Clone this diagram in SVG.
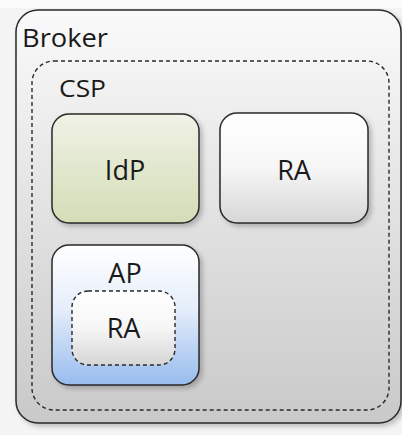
<svg xmlns="http://www.w3.org/2000/svg" width="402" height="435" viewBox="0 0 402 435">
  <defs>
    <linearGradient id="gBroker" x1="0" y1="0" x2="0" y2="1">
      <stop offset="0" stop-color="#fafafa"/>
      <stop offset="1" stop-color="#c9c9c9"/>
    </linearGradient>
    <linearGradient id="gIdP" x1="0" y1="0" x2="0" y2="1">
      <stop offset="0" stop-color="#f0f2e6"/>
      <stop offset="1" stop-color="#d3ddb6"/>
    </linearGradient>
    <linearGradient id="gGray" x1="0" y1="0" x2="0" y2="1">
      <stop offset="0" stop-color="#ffffff"/>
      <stop offset="0.5" stop-color="#f6f6f6"/>
      <stop offset="1" stop-color="#d6d6d6"/>
    </linearGradient>
    <linearGradient id="gAP" x1="0" y1="0" x2="0" y2="1">
      <stop offset="0" stop-color="#ffffff"/>
      <stop offset="0.45" stop-color="#e6eefa"/>
      <stop offset="1" stop-color="#98bcee"/>
    </linearGradient>
    <filter id="shadow" x="-10%" y="-10%" width="125%" height="125%">
      <feGaussianBlur in="SourceAlpha" stdDeviation="2.5"/>
      <feOffset dx="3" dy="3" result="b"/>
      <feComponentTransfer><feFuncA type="linear" slope="0.22"/></feComponentTransfer>
      <feMerge><feMergeNode/><feMergeNode in="SourceGraphic"/></feMerge>
    </filter>
  </defs>
  <style>
    .box { stroke: #2a2a2a; stroke-width: 1.5; }
    .dash { fill: none; stroke: #2a2a2a; stroke-width: 1.4; stroke-dasharray: 4 3; }
    .lbl { font-family: "Open Sans", "Liberation Sans", sans-serif; fill: #1a1a1a; }
    .mid { text-anchor: middle; }
    .node { font-size: 27px; }
  </style>
  <rect x="0" y="0" width="402" height="435" fill="#f4f4f4"/>
  <rect x="0" y="0" width="402" height="8" fill="#fbfbfb"/>

  <g id="broker">
    <rect class="box" x="16" y="10" width="385" height="413" rx="22" fill="url(#gBroker)" filter="url(#shadow)"/>
    <text class="lbl" x="22" y="47" font-size="26" textLength="86" lengthAdjust="spacingAndGlyphs">Broker</text>
  </g>

  <g id="csp">
    <rect class="dash" x="32" y="61" width="357" height="349" rx="22"/>
    <text class="lbl" x="59" y="97" font-size="23" textLength="47" lengthAdjust="spacingAndGlyphs">CSP</text>
  </g>

  <g id="idp">
    <rect class="box" x="52" y="114" width="147" height="109" rx="17" fill="url(#gIdP)" filter="url(#shadow)"/>
    <text class="lbl mid node" x="125" y="180">IdP</text>
  </g>

  <g id="ra-top">
    <rect class="box" x="220" y="113" width="148" height="110" rx="17" fill="url(#gGray)" filter="url(#shadow)"/>
    <text class="lbl mid node" x="294" y="180">RA</text>
  </g>

  <g id="ap">
    <rect class="box" x="52" y="245" width="147" height="140" rx="17" fill="url(#gAP)" filter="url(#shadow)"/>
    <text class="lbl mid node" x="125" y="283">AP</text>
  </g>

  <g id="ra-inner">
    <rect x="72" y="291" width="103" height="74" rx="16" fill="url(#gGray)"/>
    <rect class="dash" x="72" y="291" width="103" height="74" rx="16"/>
    <text class="lbl mid node" x="123.5" y="338">RA</text>
  </g>

  <g id="connectors"></g>
</svg>
